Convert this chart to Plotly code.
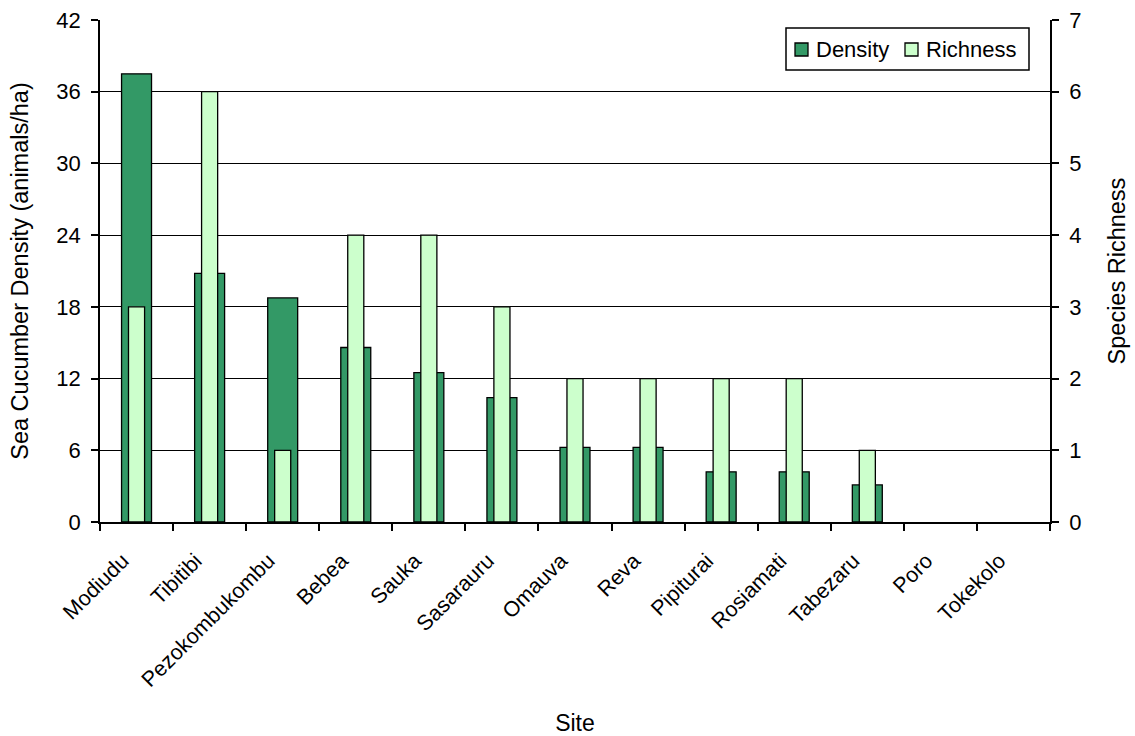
import plotly.graph_objects as go

sites = ["Modiudu", "Tibitibi", "Pezokombukombu", "Bebea", "Sauka", "Sasarauru",
         "Omauva", "Reva", "Pipiturai", "Rosiamati", "Tabezaru", "Poro", "Tokekolo"]
density = [37.5, 20.8, 18.75, 14.6, 12.5, 10.4, 6.25, 6.25, 4.2, 4.2, 3.1, 0, 0]
richness = [3, 6, 1, 4, 4, 3, 2, 2, 2, 2, 1, 0, 0]
series_names = ["Density", "Richness"]
series_colors = ["#339966", "#CCFFCC"]

font_family = "Liberation Sans, Arial, sans-serif"

W, H = 1135, 736
ML, MR, MT, MB = 100, 85, 20, 214
PW, PH = W - ML - MR, H - MT - MB


def px_x(p):
    return (p - ML) / PW


def px_y(p):
    return (H - MB - p) / PH


fig = go.Figure()
fig.add_trace(go.Bar(
    x=sites, y=density, name=series_names[0], yaxis="y", width=0.41,
    marker=dict(color=series_colors[0],
                line=dict(color="black", width=[1.3 if v > 0 else 0 for v in density])),
    showlegend=False,
))
fig.add_trace(go.Bar(
    x=sites, y=richness, name=series_names[1], yaxis="y2", width=0.22,
    marker=dict(color=series_colors[1],
                line=dict(color="black", width=[1.3 if v > 0 else 0 for v in richness])),
    showlegend=False,
))

# custom compact legend (box, swatches, labels)
shapes = [dict(type="rect", xref="paper", yref="paper",
               x0=px_x(786), x1=px_x(1029), y0=px_y(70), y1=px_y(28),
               line=dict(color="black", width=1.5), fillcolor="white", layer="above")]
annotations = []
swatch_x = [795, 905]
for sx, name, col in zip(swatch_x, series_names, series_colors):
    shapes.append(dict(type="rect", xref="paper", yref="paper",
                       x0=px_x(sx), x1=px_x(sx + 13), y0=px_y(56), y1=px_y(43),
                       line=dict(color="black", width=1.3), fillcolor=col, layer="above"))
    annotations.append(dict(xref="paper", yref="paper", x=px_x(sx + 19), y=px_y(49.5),
                            text=name, showarrow=False, xanchor="left", yanchor="middle",
                            font=dict(size=22, family=font_family, color="black")))

fig.update_layout(
    width=W, height=H,
    margin=dict(l=ML, r=MR, t=MT, b=MB, autoexpand=False),
    paper_bgcolor="white", plot_bgcolor="white",
    barmode="overlay",
    font=dict(family=font_family, size=22, color="black"),
    showlegend=False,
    shapes=shapes,
    annotations=annotations,
    xaxis=dict(
        type="category", tickangle=-45, tickson="boundaries",
        ticks="outside", ticklen=7, tickcolor="black", tickwidth=1.5,
        ticklabelstandoff=16, ticklabelshift=-14,
        showline=True, linecolor="black", linewidth=1.5, mirror=False,
        showgrid=False, tickfont=dict(size=21.5), automargin=False,
        title=dict(text="Site", font=dict(size=23), standoff=24),
        range=[-0.5, 12.5],
    ),
    yaxis=dict(
        range=[0, 42], tickvals=[0, 6, 12, 18, 24, 30, 36, 42],
        ticks="outside", ticklen=7, tickcolor="black", tickwidth=1.5,
        ticklabelstandoff=6, automargin=False,
        showline=True, linecolor="black", linewidth=1.5,
        showgrid=True, gridcolor="black", gridwidth=1,
        zeroline=False, tickfont=dict(size=22),
        title=dict(text="Sea Cucumber Density (animals/ha)", font=dict(size=23.5), standoff=21),
    ),
    yaxis2=dict(
        range=[0, 7], tickvals=[0, 1, 2, 3, 4, 5, 6, 7],
        overlaying="y", side="right",
        ticks="outside", ticklen=7, tickcolor="black", tickwidth=1.5,
        ticklabelstandoff=6, automargin=False,
        showline=True, linecolor="black", linewidth=1.5,
        showgrid=False, zeroline=False, tickfont=dict(size=22),
        title=dict(text="Species Richness", font=dict(size=23.5), standoff=28),
    ),
)

fig.write_html("out.html")
